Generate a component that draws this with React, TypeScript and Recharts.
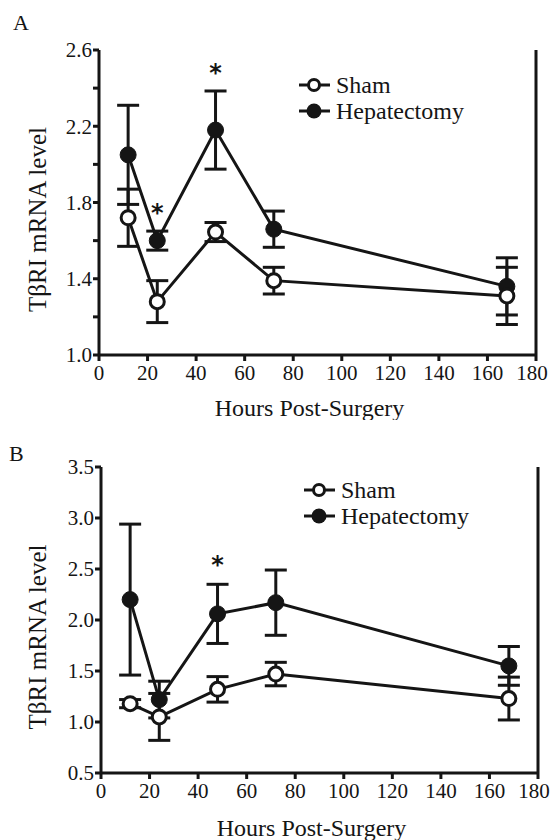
import {
  ComposedChart,
  Line,
  XAxis,
  YAxis,
  ErrorBar,
  Scatter,
  ReferenceLine,
  Legend,
  Label,
} from "recharts";

// hours after surgery
const hours = [12, 24, 48, 72, 168];
const xTicks = [0, 20, 40, 60, 80, 100, 120, 140, 160, 180];

// panel A
const shamA = [1.72, 1.28, 1.645, 1.39, 1.31];
const shamErrA = [0.15, 0.11, 0.05, 0.07, 0.15];
const hepA = [2.05, 1.6, 2.18, 1.66, 1.36];
const hepErrA = [0.26, 0.05, 0.205, 0.095, 0.15];
const starHoursA = [24, 48];
const starLevelsA = [1.77, 2.505];
const yTicksA = [1.0, 1.2, 1.4, 1.6, 1.8, 2.0, 2.2, 2.4, 2.6];
const yLabelsA = [1.0, 1.4, 1.8, 2.2, 2.6];

// panel B
const shamB = [1.18, 1.05, 1.32, 1.47, 1.23];
const shamErrB = [0.04, 0.23, 0.125, 0.115, 0.21];
const hepB = [2.2, 1.22, 2.06, 2.17, 1.55];
const hepErrB = [0.74, 0.18, 0.29, 0.32, 0.19];
const starHoursB = [48];
const starLevelsB = [2.585];
const yTicksB = [0.5, 1.0, 1.5, 2.0, 2.5, 3.0, 3.5];

const seriesNames = ["Sham", "Hepatectomy"];

const INK = "#151515";
const SERIF = '"Liberation Serif", serif';

const tickStyle = {
  fill: INK,
  fontSize: 21,
  fontFamily: SERIF,
  style: { fontFamily: SERIF },
};

// x tick, keeps the last label inside the page
const XTick = (props: any) => {
  const { x, y, payload } = props;
  const shift = payload.value === 180 ? -4 : 0;
  return (
    <text
      x={x + shift}
      y={y}
      dy="0.71em"
      textAnchor="middle"
      fontSize={21}
      fill={INK}
      style={{ fontFamily: SERIF }}
    >
      {payload.value}
    </text>
  );
};

const StarShape = (props: any) => (
  <text
    x={props.cx}
    y={props.cy + 13}
    textAnchor="middle"
    fontSize={24}
    fontWeight="bold"
    style={{ fontFamily: '"DejaVu Sans", sans-serif' }}
    fill={INK}
  >
    *
  </text>
);

const LegendBox = () => (
  <svg width={200} height={60} style={{ fontFamily: SERIF }}>
    {seriesNames.map((name, i) => {
      const y = 14 + i * 26;
      return (
        <g key={name}>
          <line x1={1} x2={32} y1={y} y2={y} stroke={INK} strokeWidth={3} />
          {i === 0 ? (
            <circle cx={16} cy={y} r={5.5} fill="#fff" stroke={INK} strokeWidth={3} />
          ) : (
            <circle cx={16} cy={y} r={7.5} fill={INK} />
          )}
          <text x={38} y={y} dy="0.35em" fontSize={24} style={{ fontFamily: SERIF }} fill={INK}>
            {name}
          </text>
        </g>
      );
    })}
  </svg>
);

interface PanelProps {
  sham: number[];
  shamErr: number[];
  hep: number[];
  hepErr: number[];
  starHours: number[];
  starLevels: number[];
  yDomain: [number, number];
  yTicks: number[];
  yLabels: number[];
  yWidth: number;
  top: number;
  rightMargin: number;
  xHeight: number;
  legendLeft: number;
  legendTop: number;
}

function Panel(p: PanelProps) {
  const data = hours.map((h, i) => ({
    h,
    sham: p.sham[i],
    shamErr: p.shamErr[i],
    hep: p.hep[i],
    hepErr: p.hepErr[i],
  }));
  const stars = p.starHours.map((h, i) => ({ h, v: p.starLevels[i] }));

  return (
    <ComposedChart
      width={551}
      height={420}
      data={data}
      style={{ fontFamily: SERIF }}
      margin={{ top: p.top, right: p.rightMargin, bottom: 0, left: 0 }}
    >
      <XAxis
        dataKey="h"
        type="number"
        domain={[0, 180]}
        ticks={xTicks}
        interval={0}
        height={p.xHeight}
        tick={<XTick />}
        tickSize={6}
        tickMargin={4}
        axisLine={{ stroke: INK, strokeWidth: 3 }}
        tickLine={{ stroke: INK, strokeWidth: 3 }}
      >
        <Label
          content={(props: any) => {
            const vb = props.viewBox;
            return (
              <text
                x={vb.x + vb.width / 2 - 8}
                y={vb.y + p.xHeight - 4}
                textAnchor="middle"
                fontSize={24}
                style={{ fontFamily: SERIF }}
                fill={INK}
              >
                Hours Post-Surgery
              </text>
            );
          }}
        />
      </XAxis>
      <YAxis
        type="number"
        domain={p.yDomain}
        ticks={p.yTicks}
        interval={0}
        width={p.yWidth}
        tick={tickStyle}
        tickSize={6}
        tickMargin={1}
        tickFormatter={(v: number) =>
          p.yLabels.some((l) => Math.abs(l - v) < 1e-6) ? v.toFixed(1) : ""
        }
        axisLine={{ stroke: INK, strokeWidth: 3 }}
        tickLine={{ stroke: INK, strokeWidth: 3 }}
      >
        <Label
          content={(props: any) => {
            const vb = props.viewBox;
            const cx = 37;
            const cy = vb.y + vb.height / 2 + 17;
            return (
              <text
                x={cx}
                y={cy}
                transform={`rotate(-90 ${cx} ${cy})`}
                textAnchor="middle"
                dominantBaseline="central"
                fontSize={25}
                style={{ fontFamily: SERIF }}
                fill={INK}
              >
                TβRI mRNA level
              </text>
            );
          }}
        />
      </YAxis>
      <ReferenceLine x={180} stroke={INK} strokeWidth={3} />
      <Legend
        content={<LegendBox />}
        layout="horizontal"
        verticalAlign="middle"
        align="center"
        wrapperStyle={{ position: "absolute", left: p.legendLeft, top: p.legendTop, width: 200 }}
      />
      <Line
        dataKey="hep"
        name="Hepatectomy"
        stroke={INK}
        strokeWidth={3}
        dot={{ r: 8, fill: INK, stroke: INK, strokeWidth: 1 }}
        isAnimationActive={false}
      >
        <ErrorBar dataKey="hepErr" direction="y" width={11} stroke={INK} strokeWidth={3} />
      </Line>
      <Line
        dataKey="sham"
        name="Sham"
        stroke={INK}
        strokeWidth={3}
        dot={{ r: 7, fill: "#fff", stroke: INK, strokeWidth: 3 }}
        isAnimationActive={false}
      >
        <ErrorBar dataKey="shamErr" direction="y" width={11} stroke={INK} strokeWidth={3} />
      </Line>
      <Scatter data={stars} dataKey="v" shape={StarShape} isAnimationActive={false} />
    </ComposedChart>
  );
}

export default function App() {
  return (
    <div
      style={{
        position: "absolute",
        left: 0,
        top: 0,
        width: 551,
        height: 840,
        background: "#fff",
        fontFamily: SERIF,
        color: INK,
      }}
    >
      <div style={{ position: "absolute", left: 13, top: 10, fontSize: 22 }}>A</div>
      <div style={{ position: "absolute", left: 9, top: 441, fontSize: 22 }}>B</div>
      <div style={{ position: "absolute", left: 0, top: 0 }}>
        <Panel
          sham={shamA}
          shamErr={shamErrA}
          hep={hepA}
          hepErr={hepErrA}
          starHours={starHoursA}
          starLevels={starLevelsA}
          yDomain={[1.0, 2.6]}
          yTicks={yTicksA}
          yLabels={yLabelsA}
          yWidth={99}
          top={50}
          rightMargin={15}
          xHeight={65}
          legendLeft={298}
          legendTop={71}
        />
      </div>
      <div style={{ position: "absolute", left: 0, top: 420 }}>
        <Panel
          sham={shamB}
          shamErr={shamErrB}
          hep={hepB}
          hepErr={hepErrB}
          starHours={starHoursB}
          starLevels={starLevelsB}
          yDomain={[0.5, 3.5]}
          yTicks={yTicksB}
          yLabels={yTicksB}
          yWidth={101}
          top={47}
          rightMargin={13}
          xHeight={67}
          legendLeft={303}
          legendTop={56}
        />
      </div>
    </div>
  );
}
